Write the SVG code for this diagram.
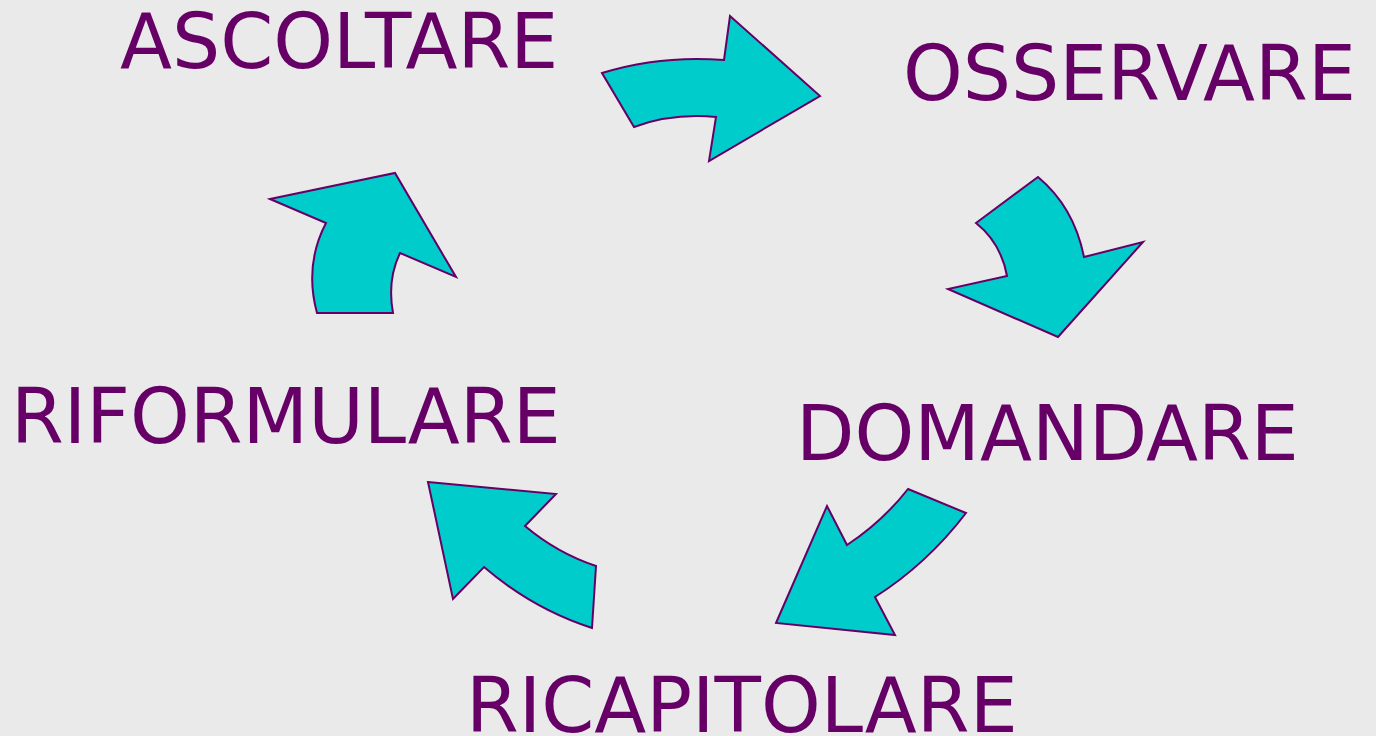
<svg xmlns="http://www.w3.org/2000/svg" width="1376" height="736" viewBox="0 0 1376 736">
<style>
.lbl{font-family:"DejaVu Sans",Verdana,sans-serif;font-size:76px;fill:#660066}
.arr{fill:#00CCCC;stroke:#660066;stroke-width:2;stroke-linejoin:miter}
</style>
<rect width="1376" height="736" fill="#EAEAEA"/>
<g id="connectors">
<path class="arr" d="M602,73 Q660,55 724,60 L730,16 L820,96 L709,161 L716,117 Q672,113 634,127 Z"/>
<path class="arr" d="M1038,177 Q1074,207 1084,257 L1143,242 L1058,337 L948,289 L1007,276 Q1001,243 976,223 Z"/>
<path class="arr" d="M908,489 L966,513 Q927,564 875,597 L895,635 L776,623 L827,506 L847,545 Q882,522 908,489 Z"/>
<path class="arr" d="M428,482 L556,494 L525,526 Q557,553 596,566 L592,628 Q533,609 484,567 L453,599 Z"/>
<path class="arr" d="M270,199 L395,173 L456,277 L400,253 Q387,280 393,313 L317,313 Q304,265 326,223 Z"/>
</g>
<g id="ascoltare"><text class="lbl" x="120" y="68">ASCOLTARE</text></g>
<g id="osservare"><text class="lbl" x="903" y="100">OSSERVARE</text></g>
<g id="domandare"><text class="lbl" x="796" y="460">DOMANDARE</text></g>
<g id="ricapitolare"><text class="lbl" x="466" y="732">RICAPITOLARE</text></g>
<g id="riformulare"><text class="lbl" x="11" y="443">RIFORMULARE</text></g>
</svg>
